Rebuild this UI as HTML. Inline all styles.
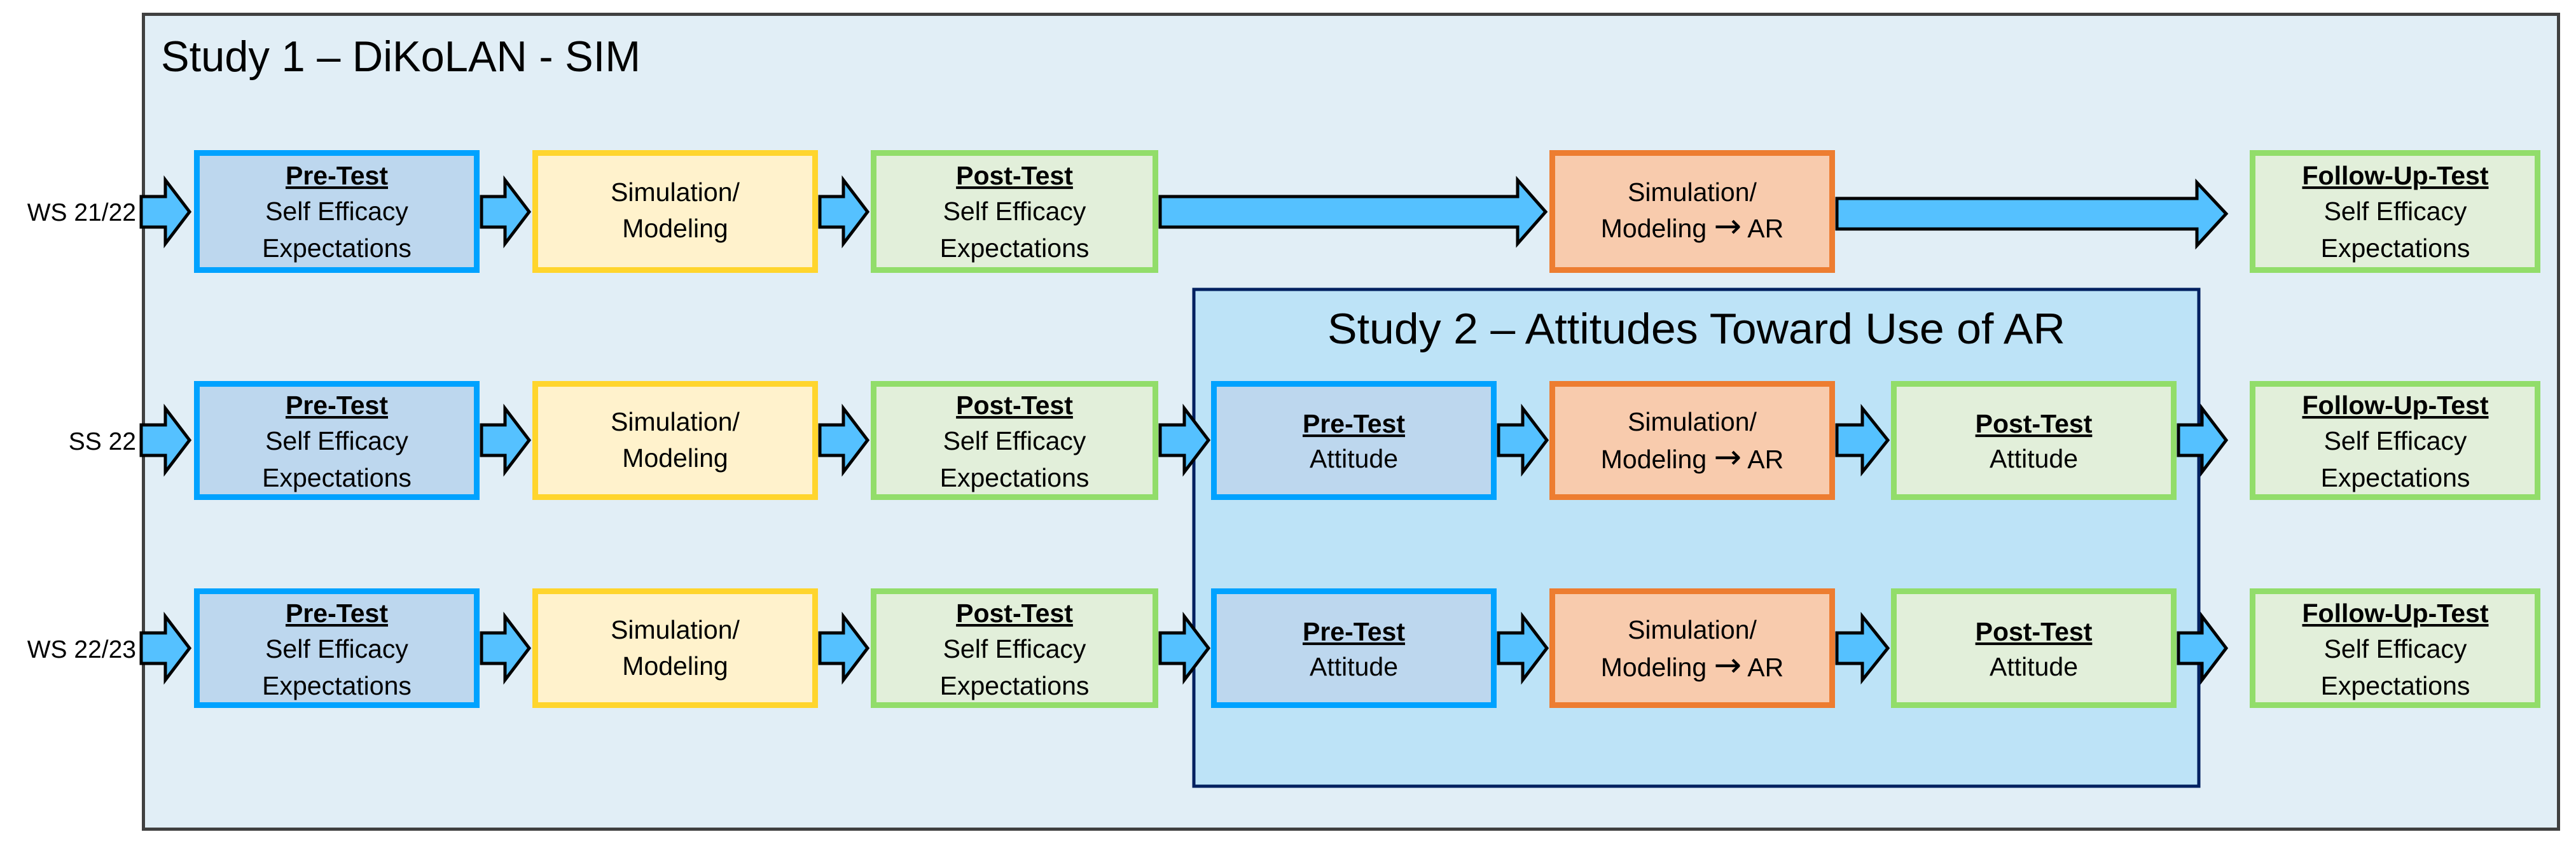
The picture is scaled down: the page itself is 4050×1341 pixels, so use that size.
<!DOCTYPE html>
<html><head><meta charset="utf-8"><style>
html,body{margin:0;padding:0;background:#fff;}
svg{display:block;}
text{font-family:"Liberation Sans",Arial,sans-serif;fill:#000;}
</style></head><body>
<svg width="4050" height="1341" viewBox="0 0 4050 1341" xmlns="http://www.w3.org/2000/svg">
<rect x="0" y="0" width="4050" height="1341" fill="#fff"/>
<rect x="225.5" y="22.5" width="3797" height="1281" fill="#E1EEF6" stroke="#404040" stroke-width="5"/>
<text x="253" y="112" font-size="68" textLength="754" lengthAdjust="spacingAndGlyphs">Study 1 – DiKoLAN - SIM</text>
<rect x="1877" y="455" width="1580" height="781" fill="#BDE3F7" stroke="#002060" stroke-width="5"/>
<text x="2667" y="540" font-size="68" text-anchor="middle" textLength="1160" lengthAdjust="spacingAndGlyphs">Study 2 – Attitudes Toward Use of AR</text>

<g font-size="39" text-anchor="end">
<text x="214" y="347">WS 21/22</text>
<text x="214" y="707">SS 22</text>
<text x="214" y="1034">WS 22/23</text>
</g>

<g fill="#55C1FF" stroke="#000" stroke-width="5" stroke-linejoin="miter">
<polygon points="222,309 260,309 260,283 298,333 260,383 260,357 222,357"/>
<polygon points="757,309 794,309 794,283 832,333 794,383 794,357 757,357"/>
<polygon points="1289,309 1326,309 1326,283 1364,333 1326,383 1326,357 1289,357"/>
<polygon points="1824,309 2386,309 2386,283 2430,333 2386,383 2386,357 1824,357"/>
<polygon points="2888,312 3454,312 3454,287 3500,336 3454,386 3454,360 2888,360"/>
<polygon points="222,668 260,668 260,642 298,692 260,742 260,716 222,716"/>
<polygon points="757,668 794,668 794,642 832,692 794,742 794,716 757,716"/>
<polygon points="1289,668 1326,668 1326,642 1364,692 1326,742 1326,716 1289,716"/>
<polygon points="1824,668 1862,668 1862,642 1900,692 1862,742 1862,716 1824,716"/>
<polygon points="2356,668 2394,668 2394,642 2432,692 2394,742 2394,716 2356,716"/>
<polygon points="2888,668 2928,668 2928,642 2968,692 2928,742 2928,716 2888,716"/>
<polygon points="3425,668 3462,668 3462,642 3500,692 3462,742 3462,716 3425,716"/>
<polygon points="222,995 260,995 260,969 298,1019 260,1069 260,1043 222,1043"/>
<polygon points="757,995 794,995 794,969 832,1019 794,1069 794,1043 757,1043"/>
<polygon points="1289,995 1326,995 1326,969 1364,1019 1326,1069 1326,1043 1289,1043"/>
<polygon points="1824,995 1862,995 1862,969 1900,1019 1862,1069 1862,1043 1824,1043"/>
<polygon points="2356,995 2394,995 2394,969 2432,1019 2394,1069 2394,1043 2356,1043"/>
<polygon points="2888,995 2928,995 2928,969 2968,1019 2928,1069 2928,1043 2888,1043"/>
<polygon points="3425,995 3462,995 3462,969 3500,1019 3462,1069 3462,1043 3425,1043"/>
</g>

<g stroke-width="9">
<rect x="309.5" y="240.5" width="440" height="184" fill="#BDD7EE" stroke="#00A2FF"/>
<rect x="841.5" y="240.5" width="440" height="184" fill="#FFF2CC" stroke="#FFD52D"/>
<rect x="1373.5" y="240.5" width="443" height="184" fill="#E2EFDA" stroke="#92DD6A"/>
<rect x="2440.5" y="240.5" width="440" height="184" fill="#F8CBAD" stroke="#ED7D31"/>
<rect x="3541.5" y="240.5" width="448" height="184" fill="#E2EFDA" stroke="#92DD6A"/>
<rect x="309.5" y="603.5" width="440" height="178" fill="#BDD7EE" stroke="#00A2FF"/>
<rect x="841.5" y="603.5" width="440" height="178" fill="#FFF2CC" stroke="#FFD52D"/>
<rect x="1373.5" y="603.5" width="443" height="178" fill="#E2EFDA" stroke="#92DD6A"/>
<rect x="1908.5" y="603.5" width="440" height="178" fill="#BDD7EE" stroke="#00A2FF"/>
<rect x="2440.5" y="603.5" width="440" height="178" fill="#F8CBAD" stroke="#ED7D31"/>
<rect x="2977.5" y="603.5" width="440" height="178" fill="#E2EFDA" stroke="#92DD6A"/>
<rect x="3541.5" y="603.5" width="448" height="178" fill="#E2EFDA" stroke="#92DD6A"/>
<rect x="309.5" y="929.5" width="440" height="179" fill="#BDD7EE" stroke="#00A2FF"/>
<rect x="841.5" y="929.5" width="440" height="179" fill="#FFF2CC" stroke="#FFD52D"/>
<rect x="1373.5" y="929.5" width="443" height="179" fill="#E2EFDA" stroke="#92DD6A"/>
<rect x="1908.5" y="929.5" width="440" height="179" fill="#BDD7EE" stroke="#00A2FF"/>
<rect x="2440.5" y="929.5" width="440" height="179" fill="#F8CBAD" stroke="#ED7D31"/>
<rect x="2977.5" y="929.5" width="440" height="179" fill="#E2EFDA" stroke="#92DD6A"/>
<rect x="3541.5" y="929.5" width="448" height="179" fill="#E2EFDA" stroke="#92DD6A"/>
</g>

<g font-size="41" text-anchor="middle">
<text x="529.5" y="290" font-weight="bold" text-decoration="underline">Pre-Test</text>
<text x="529.5" y="346">Self Efficacy</text>
<text x="529.5" y="404">Expectations</text>
<text x="1061.5" y="316">Simulation/</text>
<text x="1061.5" y="373">Modeling</text>
<text x="1595" y="290" font-weight="bold" text-decoration="underline">Post-Test</text>
<text x="1595" y="346">Self Efficacy</text>
<text x="1595" y="404">Expectations</text>
<text x="2660.5" y="316">Simulation/</text>
<text x="2660.5" y="373">Modeling <tspan font-size="52" font-family="DejaVu Sans">→</tspan> AR</text>
<text x="3766" y="290" font-weight="bold" text-decoration="underline">Follow-Up-Test</text>
<text x="3766" y="346">Self Efficacy</text>
<text x="3766" y="404">Expectations</text>
<text x="529.5" y="651" font-weight="bold" text-decoration="underline">Pre-Test</text>
<text x="529.5" y="707">Self Efficacy</text>
<text x="529.5" y="765">Expectations</text>
<text x="1061.5" y="677">Simulation/</text>
<text x="1061.5" y="734">Modeling</text>
<text x="1595" y="651" font-weight="bold" text-decoration="underline">Post-Test</text>
<text x="1595" y="707">Self Efficacy</text>
<text x="1595" y="765">Expectations</text>
<text x="2128.5" y="680" font-weight="bold" text-decoration="underline">Pre-Test</text>
<text x="2128.5" y="735">Attitude</text>
<text x="2660.5" y="677">Simulation/</text>
<text x="2660.5" y="736">Modeling <tspan font-size="52" font-family="DejaVu Sans">→</tspan> AR</text>
<text x="3197.5" y="680" font-weight="bold" text-decoration="underline">Post-Test</text>
<text x="3197.5" y="735">Attitude</text>
<text x="3766" y="651" font-weight="bold" text-decoration="underline">Follow-Up-Test</text>
<text x="3766" y="707">Self Efficacy</text>
<text x="3766" y="765">Expectations</text>
<text x="529.5" y="978" font-weight="bold" text-decoration="underline">Pre-Test</text>
<text x="529.5" y="1034">Self Efficacy</text>
<text x="529.5" y="1092">Expectations</text>
<text x="1061.5" y="1004">Simulation/</text>
<text x="1061.5" y="1061">Modeling</text>
<text x="1595" y="978" font-weight="bold" text-decoration="underline">Post-Test</text>
<text x="1595" y="1034">Self Efficacy</text>
<text x="1595" y="1092">Expectations</text>
<text x="2128.5" y="1007" font-weight="bold" text-decoration="underline">Pre-Test</text>
<text x="2128.5" y="1062">Attitude</text>
<text x="2660.5" y="1004">Simulation/</text>
<text x="2660.5" y="1063">Modeling <tspan font-size="52" font-family="DejaVu Sans">→</tspan> AR</text>
<text x="3197.5" y="1007" font-weight="bold" text-decoration="underline">Post-Test</text>
<text x="3197.5" y="1062">Attitude</text>
<text x="3766" y="978" font-weight="bold" text-decoration="underline">Follow-Up-Test</text>
<text x="3766" y="1034">Self Efficacy</text>
<text x="3766" y="1092">Expectations</text>
</g>
</svg>
</body></html>
